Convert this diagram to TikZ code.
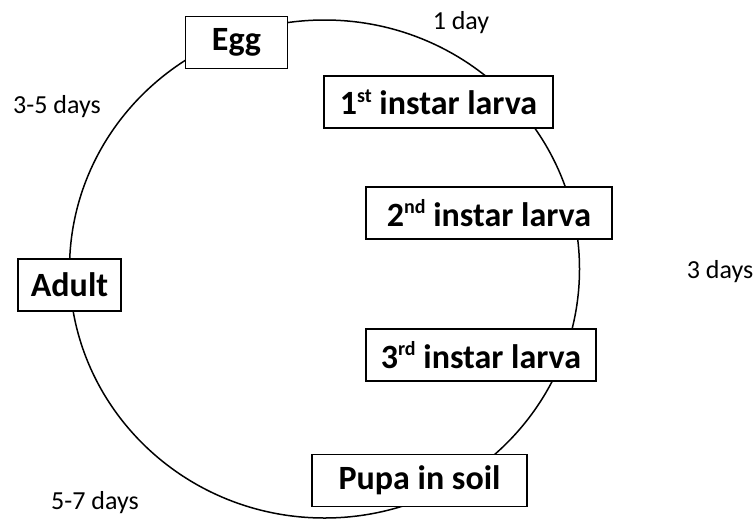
\documentclass[tikz,border=0pt]{standalone}
\usepackage{fontspec}
\setmainfont{Carlito}
\newcommand{\supr}[1]{\raisebox{0.36em}{\fontsize{20}{22}\selectfont #1}}
\begin{document}
\begin{tikzpicture}[x=1pt,y=-1pt,
  stage/.style={draw, line width=1.5pt, fill=white, inner sep=0pt, minimum height=52pt,
    font=\fontsize{34}{40}\selectfont\bfseries},
  dur/.style={inner sep=0pt, font=\fontsize{26}{31}\selectfont}]
\useasboundingbox (0,0) rectangle (755,520);
\draw[line width=1.5pt] (324.5,269) ellipse [x radius=255, y radius=249];
\node[stage, minimum width=102pt] (egg) at (236.5,42.5) {Egg};
\node[stage, minimum width=229pt] (l1) at (438.5,102) {1\supr{st} instar larva};
\node[stage, minimum width=246pt] (l2) at (489,213) {2\supr{nd} instar larva};
\node[stage, minimum width=230pt] (l3) at (481,355) {3\supr{rd} instar larva};
\node[stage, minimum width=103pt] (adult) at (69.5,285) {Adult};
\node[stage, minimum width=215pt] (pupa) at (419.5,480.5) {Pupa in soil};
\node[dur] (d1) at (461,23) {1 day};
\node[dur] (d2) at (57,107) {3-5 days};
\node[dur] (d3) at (720,272) {3 days};
\node[dur] (d4) at (95,503) {5-7 days};
\end{tikzpicture}
\end{document}
